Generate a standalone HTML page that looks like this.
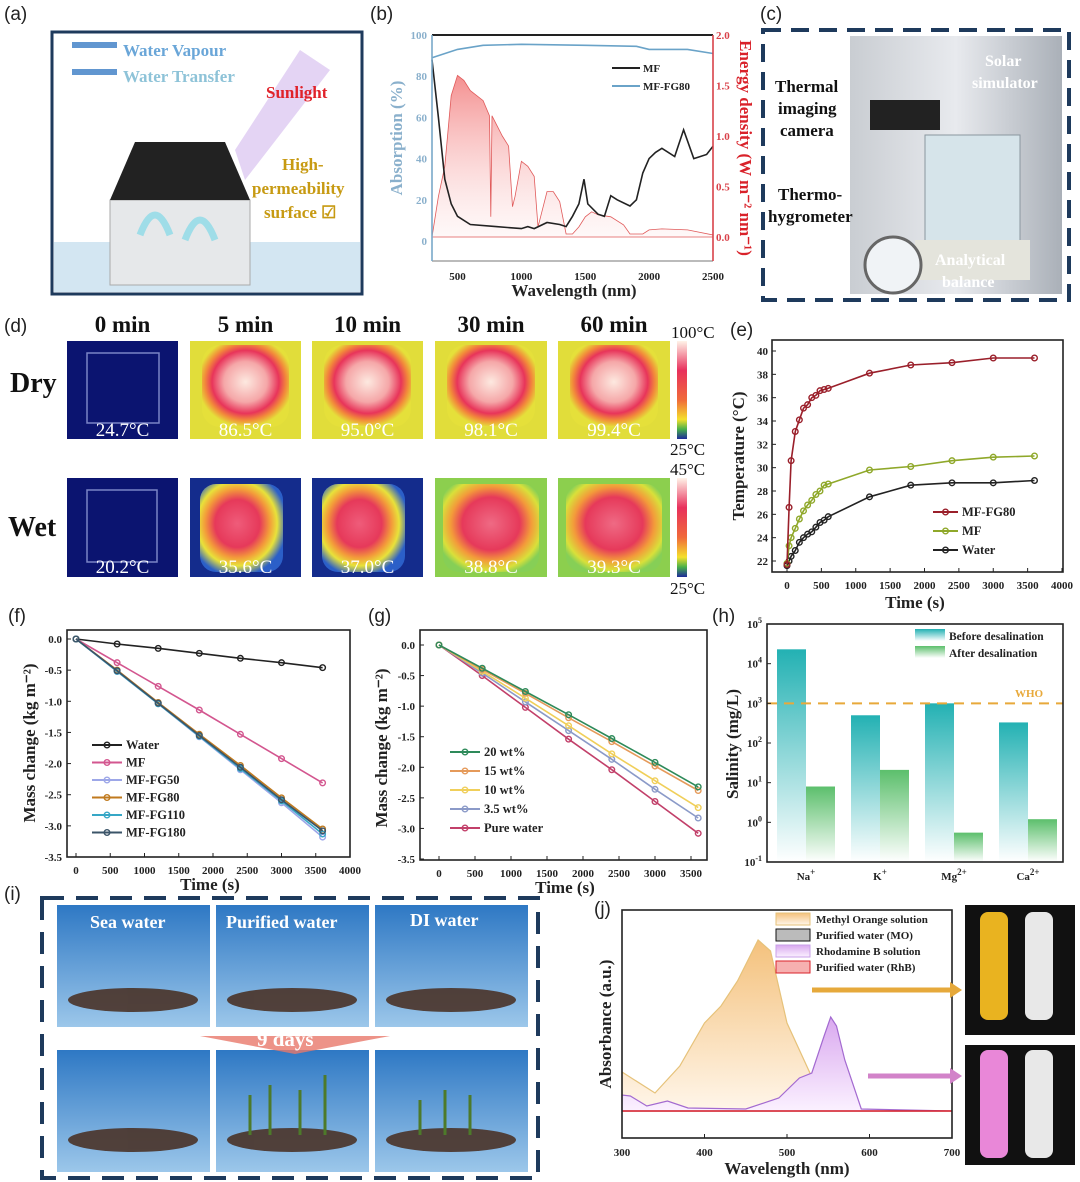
<!DOCTYPE html>
<html><head><meta charset="utf-8">
<style>
body{margin:0;background:#fff;}
svg{display:block;font-family:"Liberation Serif",serif;}
.pl{font-family:"Liberation Sans",sans-serif;font-size:19px;fill:#222;}
.tk{font-size:11px;font-weight:bold;fill:#222;}
.at{font-size:17px;font-weight:bold;fill:#222;}
</style></head>
<body>
<svg id="fig" width="1080" height="1182" viewBox="0 0 1080 1182" xmlns="http://www.w3.org/2000/svg">
<defs>
<linearGradient id="solarG" x1="0" y1="0" x2="0" y2="1"><stop offset="0" stop-color="#f27b7b" stop-opacity="0.85"/><stop offset="1" stop-color="#fde8e8" stop-opacity="0.3"/></linearGradient>
<linearGradient id="beforeG" x1="0" y1="0" x2="0" y2="1"><stop offset="0" stop-color="#23b1b3"/><stop offset="1" stop-color="#ffffff"/></linearGradient>
<linearGradient id="afterG" x1="0" y1="0" x2="0" y2="1"><stop offset="0" stop-color="#5cbf6c"/><stop offset="1" stop-color="#ffffff"/></linearGradient>
<linearGradient id="moG" x1="0" y1="0" x2="0" y2="1"><stop offset="0" stop-color="#f4c17c"/><stop offset="1" stop-color="#fff6ea"/></linearGradient>
<linearGradient id="rhG" x1="0" y1="0" x2="0" y2="1"><stop offset="0" stop-color="#d9a8ef"/><stop offset="1" stop-color="#fbf1ff"/></linearGradient>
<linearGradient id="cbar" x1="0" y1="0" x2="0" y2="1"><stop offset="0" stop-color="#fff3e8"/><stop offset="0.3" stop-color="#e8305c"/><stop offset="0.6" stop-color="#f06a3a"/><stop offset="0.8" stop-color="#f4e02c"/><stop offset="0.9" stop-color="#48b04a"/><stop offset="1" stop-color="#1d2a9a"/></linearGradient>
<radialGradient id="hotDry" cx="0.5" cy="0.45" r="0.55"><stop offset="0" stop-color="#fde9e0"/><stop offset="0.45" stop-color="#f5a7a8"/><stop offset="0.7" stop-color="#e8345a"/><stop offset="0.85" stop-color="#f28a3a"/><stop offset="1" stop-color="#e5e03a"/></radialGradient>
<radialGradient id="hotWet" cx="0.45" cy="0.45" r="0.6"><stop offset="0" stop-color="#ef5c7a"/><stop offset="0.45" stop-color="#e6395a"/><stop offset="0.65" stop-color="#f39b3a"/><stop offset="0.8" stop-color="#e8e23a"/><stop offset="1" stop-color="#2b5fc8"/></radialGradient>
<radialGradient id="hotWet2" cx="0.5" cy="0.45" r="0.6"><stop offset="0" stop-color="#ef6a84"/><stop offset="0.5" stop-color="#e6395a"/><stop offset="0.7" stop-color="#f39b3a"/><stop offset="0.88" stop-color="#d9e03a"/><stop offset="1" stop-color="#86cf56"/></radialGradient>
<linearGradient id="photoBg" x1="0" y1="0" x2="0" y2="1"><stop offset="0" stop-color="#2e78c4"/><stop offset="1" stop-color="#9cc7ea"/></linearGradient>
<linearGradient id="labBg" x1="0" y1="0" x2="1" y2="0"><stop offset="0" stop-color="#c9cdd2"/><stop offset="0.5" stop-color="#e8eaee"/><stop offset="1" stop-color="#aab0b8"/></linearGradient>
</defs>

<!-- panel labels -->
<text class="pl" x="4" y="20">(a)</text>
<text class="pl" x="370" y="20">(b)</text>
<text class="pl" x="760" y="20">(c)</text>
<text class="pl" x="4" y="332">(d)</text>
<text class="pl" x="730" y="336">(e)</text>
<text class="pl" x="8" y="622">(f)</text>
<text class="pl" x="368" y="622">(g)</text>
<text class="pl" x="712" y="622">(h)</text>
<text class="pl" x="4" y="900">(i)</text>
<text class="pl" x="594" y="915">(j)</text>

<!-- panel a schematic -->
<g>
<rect x="52" y="32" width="310" height="262" fill="#fff" stroke="#1e3a5c" stroke-width="3"/>
<rect x="54" y="242" width="306" height="50" fill="#d3e6f2"/>
<path d="M235 150 L300 50 L330 70 L245 180 Z" fill="#d9c2f0" opacity="0.7"/>
<path d="M110 200 L110 285 L250 285 L250 200 Z" fill="#e6e8ea" stroke="#aaa"/>
<path d="M110 200 L135 142 L225 142 L250 200 Z" fill="#222"/>
<path d="M140 235 q15 -40 30 0 M185 240 q15 -40 30 0" stroke="#9fdde8" stroke-width="7" fill="none"/>
<path d="M72 45 h45 M72 72 h45" stroke="#3a7cc5" stroke-width="6" opacity="0.8"/>
<text x="123" y="56" font-size="17" font-weight="bold" fill="#6aa6d8">Water Vapour</text>
<text x="123" y="82" font-size="17" font-weight="bold" fill="#8ec3d8">Water Transfer</text>
<text x="266" y="98" font-size="17" font-weight="bold" fill="#e0222a">Sunlight</text>
<text x="282" y="170" font-size="17" font-weight="bold" fill="#c79a12">High-</text>
<text x="252" y="194" font-size="17" font-weight="bold" fill="#c79a12">permeability</text>
<text x="264" y="218" font-size="17" font-weight="bold" fill="#c79a12">surface ☑</text>
</g>

<!-- panel b -->
<g id="pb"></g>

<!-- panel c photo -->
<g>
<rect x="763" y="30" width="306" height="270" fill="#fff" stroke="#1e3a5c" stroke-width="4" stroke-dasharray="18 10"/>
<rect x="850" y="36" width="212" height="258" fill="url(#labBg)"/>
<rect x="925" y="135" width="95" height="120" fill="#d6e4ea" stroke="#8a969e"/>
<rect x="915" y="240" width="115" height="40" fill="#e4e4dc"/>
<circle cx="893" cy="265" r="28" fill="#f0f3f6" stroke="#666" stroke-width="3"/>
<rect x="870" y="100" width="70" height="30" fill="#222"/>
<text x="775" y="92" font-size="17" font-weight="bold" fill="#111">Thermal</text>
<text x="778" y="114" font-size="17" font-weight="bold" fill="#111">imaging</text>
<text x="780" y="136" font-size="17" font-weight="bold" fill="#111">camera</text>
<text x="985" y="66" font-size="16" font-weight="bold" fill="#fff">Solar</text>
<text x="972" y="88" font-size="16" font-weight="bold" fill="#fff">simulator</text>
<text x="778" y="200" font-size="17" font-weight="bold" fill="#111">Thermo-</text>
<text x="768" y="222" font-size="17" font-weight="bold" fill="#111">hygrometer</text>
<text x="935" y="265" font-size="16" font-weight="bold" fill="#fff">Analytical</text>
<text x="942" y="287" font-size="16" font-weight="bold" fill="#fff">balance</text>
</g>

<!-- panel d thermal -->
<g id="pd"></g>

<g id="pe"></g>
<g id="pf"></g>
<g id="pg"></g>
<g id="ph"></g>

<!-- panel i photos -->
<g>
<rect x="42" y="898" width="496" height="280" fill="#fff" stroke="#1e3a5c" stroke-width="4" stroke-dasharray="22 12"/>
<rect x="57" y="905" width="153" height="122" fill="url(#photoBg)"/>
<rect x="216" y="905" width="153" height="122" fill="url(#photoBg)"/>
<rect x="375" y="905" width="153" height="122" fill="url(#photoBg)"/>
<rect x="57" y="1050" width="153" height="122" fill="url(#photoBg)"/>
<rect x="216" y="1050" width="153" height="122" fill="url(#photoBg)"/>
<rect x="375" y="1050" width="153" height="122" fill="url(#photoBg)"/>
<g fill="#4a3328" opacity="0.9">
<ellipse cx="133" cy="1000" rx="65" ry="12"/><ellipse cx="292" cy="1000" rx="65" ry="12"/><ellipse cx="451" cy="1000" rx="65" ry="12"/>
<ellipse cx="133" cy="1140" rx="65" ry="12"/><ellipse cx="292" cy="1140" rx="65" ry="12"/><ellipse cx="451" cy="1140" rx="65" ry="12"/>
</g>
<g stroke="#4d7a2a" stroke-width="3"><path d="M250 1135 v-40 M270 1135 v-50 M300 1135 v-45 M325 1135 v-60 M420 1135 v-35 M445 1135 v-45 M470 1135 v-40"/></g>
<path d="M200 1036 h190 l-95 18 z" fill="#e8786a" opacity="0.8"/>
<text x="90" y="928" font-size="18" font-weight="bold" fill="#fff">Sea water</text>
<text x="226" y="928" font-size="18" font-weight="bold" fill="#fff">Purified water</text>
<text x="410" y="926" font-size="18" font-weight="bold" fill="#fff">DI water</text>
<text x="257" y="1046" font-size="21" font-weight="bold" fill="#fff">9 days</text>
</g>

<g id="pj"></g>

<!-- vials -->
<g>
<rect x="965" y="905" width="110" height="130" fill="#111"/>
<rect x="965" y="1045" width="110" height="120" fill="#111"/>
<rect x="980" y="912" width="28" height="108" rx="8" fill="#e9b320"/>
<rect x="1025" y="912" width="28" height="108" rx="8" fill="#e8e8e8"/>
<rect x="980" y="1050" width="28" height="108" rx="8" fill="#e987d8"/>
<rect x="1025" y="1050" width="28" height="108" rx="8" fill="#e8e8e8"/>
<path d="M812 990 h140" stroke="#e6a93b" stroke-width="5"/><path d="M950 982 l12 8 l-12 8z" fill="#e6a93b"/>
<path d="M868 1076 h84" stroke="#d283c9" stroke-width="5"/><path d="M950 1068 l12 8 l-12 8z" fill="#d283c9"/>
</g>
</svg>

<script>
// ---------- DATA ----------
const bWave=[300,350,400,450,500,600,800,1000,1050,1100,1200,1300,1350,1400,1450,1490,1520,1600,1650,1700,1750,1850,1900,1950,2000,2050,2100,2200,2270,2350,2450,2500];
const bMF=[88,60,30,18,12,8,7,6,7,6,9,8,7,12,18,30,18,13,12,22,20,17,20,33,40,43,45,41,54,40,42,46];
const bFGWave=[300,500,700,1000,1500,1900,2000,2300,2500];
const bFG=[89,93,95,95.5,95,94.5,93,93,91];
const solarWave=[300,350,400,450,500,550,600,700,750,760,770,850,900,930,950,1000,1050,1100,1130,1150,1200,1250,1300,1350,1400,1450,1500,1550,1600,1700,1800,1850,1950,2000,2100,2300,2500];
const solarVal=[0,0.4,0.7,1.4,1.6,1.55,1.45,1.35,1.2,0.2,1.2,1.0,0.9,0.3,0.4,0.75,0.7,0.6,0.1,0.2,0.45,0.45,0.35,0.03,0.03,0.1,0.2,0.25,0.22,0.2,0.12,0.03,0.03,0.07,0.08,0.07,0.02];

const eTime=[0,30,60,120,180,240,300,360,420,480,540,600,1200,1800,2400,3000,3600];
const eFG80=[21.7,26.6,30.6,33.1,34.1,35.1,35.4,36.0,36.2,36.6,36.7,36.8,38.1,38.8,39.0,39.4,39.4];
const eMF=[21.8,23.3,24.0,24.8,25.6,26.3,26.8,27.2,27.7,28.0,28.5,28.6,29.8,30.1,30.6,30.9,31.0];
const eWater=[21.6,22.0,22.4,22.9,23.6,24.0,24.3,24.5,24.9,25.3,25.5,25.8,27.5,28.5,28.7,28.7,28.9];

const fTime=[0,600,1200,1800,2400,3000,3600];
const fWater=[0,-0.08,-0.15,-0.23,-0.31,-0.38,-0.46];
const fMF=[0,-0.38,-0.76,-1.14,-1.53,-1.92,-2.31];
const fFG50=[0,-0.52,-1.04,-1.57,-2.1,-2.63,-3.18];
const fFG80=[0,-0.5,-1.02,-1.53,-2.03,-2.55,-3.05];
const fFG110=[0,-0.52,-1.04,-1.56,-2.08,-2.6,-3.13];
const fFG180=[0,-0.51,-1.03,-1.55,-2.06,-2.58,-3.08];

const gTime=[0,600,1200,1800,2400,3000,3600];
const g20=[0,-0.38,-0.76,-1.14,-1.53,-1.92,-2.32];
const g15=[0,-0.4,-0.79,-1.19,-1.58,-1.98,-2.38];
const g10=[0,-0.43,-0.87,-1.32,-1.78,-2.22,-2.66];
const g35=[0,-0.46,-0.93,-1.4,-1.87,-2.36,-2.83];
const gPure=[0,-0.5,-1.02,-1.54,-2.04,-2.56,-3.08];

const hIons=["Na","K","Mg","Ca"];
const hIonSup=["+","+","2+","2+"];
const hBefore=[23000,500,1000,330];
const hAfter=[8,21,0.55,1.2];
const hWHO=1000;

const jMOx=[300,340,370,400,420,440,465,480,500,530,560,580,700];
const jMO=[0.39,0.18,0.45,0.88,1.05,1.3,1.71,1.6,0.88,0.34,0.04,0,0];
const jRhx=[300,310,330,355,380,450,490,515,530,545,553,560,570,590,700];
const jRh=[0.16,0.15,0.05,0.1,0.03,0.02,0.13,0.33,0.38,0.75,0.94,0.85,0.51,0.02,0];
const jPW=[0,0];

// ---------- HELPERS ----------
const NS="http://www.w3.org/2000/svg";
function mk(parent,tag,attrs,text){const e=document.createElementNS(NS,tag);for(const k in attrs)e.setAttribute(k,attrs[k]);if(text!==undefined)e.textContent=text;parent.appendChild(e);return e;}
function lin(d0,d1,r0,r1){return v=>r0+(v-d0)*(r1-r0)/(d1-d0);}
function pathOf(xs,ys,X,Y){return xs.map((x,i)=>(i?"L":"M")+X(x).toFixed(1)+" "+Y(ys[i]).toFixed(1)).join(" ");}
function box(g,x0,y0,x1,y1){const r=mk(g,"rect",{x:x0,y:y0,width:x1-x0,height:y1-y0,fill:"none",stroke:"#222","stroke-width":1.6});}
function series(g,xs,ys,X,Y,color,name,marker){
  const p=mk(g,"path",{d:pathOf(xs,ys,X,Y),fill:"none",stroke:color,"stroke-width":1.6});
  
  
  if(marker){xs.forEach((x,i)=>{const c=mk(g,"circle",{cx:X(x),cy:Y(ys[i]),r:2.8,fill:"none",stroke:color,"stroke-width":1.4});
    
    });}
}
function legendLine(g,x,y,color,label,w){
  mk(g,"path",{d:`M${x} ${y} h${w||30}`,stroke:color,"stroke-width":2});
  mk(g,"circle",{cx:x+(w||30)/2,cy:y,r:2.8,fill:"none",stroke:color,"stroke-width":1.4});
  const t=mk(g,"text",{x:x+(w||30)+4,y:y+4,"font-size":12.5,"font-weight":"bold",fill:"#222"},label);
  
  
}

// ---------- PANEL B ----------
(function(){
  const g=document.getElementById("pb");
  const X=lin(300,2500,432,713),YA=lin(0,100,241,35),YE=lin(0,2,237,35);
  let d="M"+X(300)+" "+YE(0)+" "+solarWave.map((w,i)=>"L"+X(w).toFixed(1)+" "+YE(solarVal[i]).toFixed(1)).join(" ")+" L"+X(2500)+" "+YE(0)+" Z";
  const a=mk(g,"path",{d:d,fill:"url(#solarG)",stroke:"#e05a5a","stroke-width":0.8});
  
  
  series(g,bWave,bMF,X,YA,"#222","mf",false);
  series(g,bFGWave,bFG,X,YA,"#6aa3c8","mf-fg80",false);
  mk(g,"path",{d:"M432 35 v226 M713 35 v226 M432 261 h281",stroke:"#777","stroke-width":1});
  mk(g,"path",{d:"M432 35 h281",stroke:"#222","stroke-width":2});
  mk(g,"path",{d:"M432 35 v226",stroke:"#7aa9c9","stroke-width":1.6});
  mk(g,"path",{d:"M713 35 v226",stroke:"#d9424a","stroke-width":1.6});
  [500,1000,1500,2000,2500].forEach(v=>mk(g,"text",{x:X(v),y:280,"text-anchor":"middle",class:"tk","font-size":12},v));
  [0,20,40,60,80,100].forEach(v=>mk(g,"text",{x:427,y:YA(v)+4,"text-anchor":"end",class:"tk",fill:"#8ab0cc",style:"fill:#8ab0cc"},v));
  ["0.0","0.5","1.0","1.5","2.0"].forEach(v=>mk(g,"text",{x:716,y:YE(+v)+4,class:"tk",style:"fill:#d9424a"},v));
  mk(g,"text",{x:574,y:296,"text-anchor":"middle",class:"at","font-size":18},"Wavelength (nm)");
  mk(g,"text",{transform:"translate(402,138) rotate(-90)","text-anchor":"middle",style:"font-size:17px;font-weight:bold;fill:#8ab0cc"},"Absorption (%)");
  mk(g,"text",{transform:"translate(740,148) rotate(90)","text-anchor":"middle",style:"font-size:17px;font-weight:bold;fill:#d9222a"},"Energy density (W m⁻² nm⁻¹)");
  mk(g,"path",{d:"M612 68 h28",stroke:"#222","stroke-width":2});
  mk(g,"text",{x:643,y:72,"font-size":11,"font-weight":"bold",fill:"#222"},"MF");
  mk(g,"path",{d:"M612 86 h28",stroke:"#6aa3c8","stroke-width":2});
  mk(g,"text",{x:643,y:90,"font-size":11,"font-weight":"bold",fill:"#222"},"MF-FG80");
})();

// ---------- PANEL D ----------
(function(){
  const g=document.getElementById("pd");
  const cols=[[67,178],[190,301],[312,423],[435,547],[558,670]];
  const heads=["0 min","5 min","10 min","30 min","60 min"];
  const dry=["24.7°C","86.5°C","95.0°C","98.1°C","99.4°C"];
  const wet=["20.2°C","35.6°C","37.0°C","38.8°C","39.3°C"];
  const wetFill=["#0b1470","url(#hotWet)","url(#hotWet)","url(#hotWet2)","url(#hotWet2)"];
  cols.forEach((c,i)=>{
    const cx=(c[0]+c[1])/2;
    mk(g,"text",{x:cx,y:332,"text-anchor":"middle","font-size":23,"font-weight":"bold",fill:"#111"},heads[i]);
    mk(g,"rect",{x:c[0],y:341,width:c[1]-c[0],height:98,fill:i?"#e1dd3a":"#0b1470"});
    if(i)mk(g,"rect",{x:c[0]+12,y:345,width:c[1]-c[0]-24,height:82,rx:18,fill:"url(#hotDry)"});
    else mk(g,"rect",{x:c[0]+20,y:353,width:72,height:70,fill:"none",stroke:"#7b84c6","stroke-width":1.5});
    mk(g,"text",{x:cx,y:436,"text-anchor":"middle","font-size":19,fill:"#fff"},dry[i]);
    mk(g,"rect",{x:c[0],y:478,width:c[1]-c[0],height:99,fill:i?(i<3?"#142c8c":"#8ccf4e"):"#0b1470"});
    if(i)mk(g,"rect",{x:c[0]+(i<3?10:8),y:484,width:c[1]-c[0]-(i<3?28:16),height:88,rx:16,fill:wetFill[i]});
    else mk(g,"rect",{x:c[0]+20,y:490,width:70,height:72,fill:"none",stroke:"#7b84c6","stroke-width":1.5});
    mk(g,"text",{x:cx,y:573,"text-anchor":"middle","font-size":19,fill:"#fff"},wet[i]);
  });
  mk(g,"text",{x:10,y:392,"font-size":28,"font-weight":"bold",fill:"#111"},"Dry");
  mk(g,"text",{x:8,y:536,"font-size":28,"font-weight":"bold",fill:"#111"},"Wet");
  mk(g,"rect",{x:677,y:341,width:10,height:98,fill:"url(#cbar)"});
  mk(g,"rect",{x:677,y:478,width:10,height:99,fill:"url(#cbar)"});
  mk(g,"text",{x:671,y:338,"font-size":17,fill:"#111"},"100°C");
  mk(g,"text",{x:670,y:455,"font-size":17,fill:"#111"},"25°C");
  mk(g,"text",{x:670,y:475,"font-size":17,fill:"#111"},"45°C");
  mk(g,"text",{x:670,y:594,"font-size":17,fill:"#111"},"25°C");
})();

// ---------- PANEL E ----------
(function(){
  const g=document.getElementById("pe");
  const X=lin(0,4000,787,1062),Y=lin(22,40,561,351);
  box(g,772,340,1063,572);
  series(g,eTime,eWater,X,Y,"#222","water",true);
  series(g,eTime,eMF,X,Y,"#8fa82a","mf",true);
  series(g,eTime,eFG80,X,Y,"#9a1f2a","mf-fg80",true);
  [0,500,1000,1500,2000,2500,3000,3500,4000].forEach(v=>{mk(g,"path",{d:`M${X(v)} 572 v-4`,stroke:"#222"});mk(g,"text",{x:X(v),y:589,"text-anchor":"middle",class:"tk","font-size":11.5},v);});
  [22,24,26,28,30,32,34,36,38,40].forEach(v=>{mk(g,"path",{d:`M772 ${Y(v)} h4`,stroke:"#222"});mk(g,"text",{x:768,y:Y(v)+4,"text-anchor":"end",class:"tk","font-size":11.5},v);});
  mk(g,"text",{x:915,y:608,"text-anchor":"middle",class:"at","font-size":18},"Time (s)");
  mk(g,"text",{transform:"translate(744,456) rotate(-90)","text-anchor":"middle",class:"at","font-size":18},"Temperature (°C)");
  legendLine(g,933,512,"#9a1f2a","MF-FG80",25);
  legendLine(g,933,531,"#8fa82a","MF",25);
  legendLine(g,933,550,"#222","Water",25);
})();

// ---------- PANEL F ----------
(function(){
  const g=document.getElementById("pf");
  const X=lin(0,4000,76,350),Y=lin(0,-3.5,639,857);
  box(g,67,630,350,857);
  const cols=[["#222",fWater,"Water"],["#d3568f",fMF,"MF"],["#9da7e8",fFG50,"MF-FG50"],["#c07a1e",fFG80,"MF-FG80"],["#36a7c6",fFG110,"MF-FG110"],["#3b5468",fFG180,"MF-FG180"]];
  cols.forEach(c=>series(g,fTime,c[1],X,Y,c[0],c[2].toLowerCase(),true));
  [0,500,1000,1500,2000,2500,3000,3500,4000].forEach(v=>{mk(g,"path",{d:`M${X(v)} 857 v-4`,stroke:"#222"});mk(g,"text",{x:X(v),y:874,"text-anchor":"middle",class:"tk"},v);});
  ["0.0","-0.5","-1.0","-1.5","-2.0","-2.5","-3.0","-3.5"].forEach(v=>{mk(g,"path",{d:`M67 ${Y(+v)} h4`,stroke:"#222"});mk(g,"text",{x:62,y:Y(+v)+4,"text-anchor":"end",class:"tk"},v);});
  mk(g,"text",{x:210,y:890,"text-anchor":"middle",class:"at","font-size":18},"Time (s)");
  mk(g,"text",{transform:"translate(35,743) rotate(-90)","text-anchor":"middle",class:"at","font-size":17},"Mass change (kg m⁻²)");
  cols.forEach((c,i)=>legendLine(g,92,745+i*17.5,c[0],c[2],30));
})();

// ---------- PANEL G ----------
(function(){
  const g=document.getElementById("pg");
  const X=lin(0,3500,439,691),Y=lin(0,-3.5,645,859);
  box(g,420,630,707,860);
  const cols=[["#2e8a5a",g20,"20 wt%"],["#e59a5a",g15,"15 wt%"],["#f0cf5a",g10,"10 wt%"],["#8b9ac8",g35,"3.5 wt%"],["#c2406a",gPure,"Pure water"]];
  cols.slice().reverse().forEach(c=>series(g,gTime,c[1],X,Y,c[0],c[2].replace(/[ %.]/g,''),true));
  [0,500,1000,1500,2000,2500,3000,3500].forEach(v=>{mk(g,"path",{d:`M${X(v)} 860 v-4`,stroke:"#222"});mk(g,"text",{x:X(v),y:877,"text-anchor":"middle",class:"tk"},v);});
  ["0.0","-0.5","-1.0","-1.5","-2.0","-2.5","-3.0","-3.5"].forEach(v=>{mk(g,"path",{d:`M420 ${Y(+v)} h4`,stroke:"#222"});mk(g,"text",{x:415,y:Y(+v)+4,"text-anchor":"end",class:"tk"},v);});
  mk(g,"text",{x:565,y:893,"text-anchor":"middle",class:"at","font-size":18},"Time (s)");
  mk(g,"text",{transform:"translate(387,748) rotate(-90)","text-anchor":"middle",class:"at","font-size":17},"Mass change (kg m⁻²)");
  cols.forEach((c,i)=>legendLine(g,450,752+i*19,c[0],c[2],30));
})();

// ---------- PANEL H ----------
(function(){
  const g=document.getElementById("ph");
  const Y=v=>862-(Math.log10(v)+1)*(238/6);
  const X0=767,cw=74,bw=29;
  hIons.forEach((ion,i)=>{
    const c=X0+39+i*cw;
    const r1=mk(g,"rect",{x:c-bw,y:Y(hBefore[i]),width:bw,height:862-Y(hBefore[i]),fill:"url(#beforeG)"});
    
    
    const r2=mk(g,"rect",{x:c,y:Y(hAfter[i]),width:bw,height:862-Y(hAfter[i]),fill:"url(#afterG)"});
    
    
    const t=mk(g,"text",{x:c,y:880,"text-anchor":"middle",class:"tk","font-size":13},ion);
    mk(t,"tspan",{dy:-5,"font-size":9},hIonSup[i]);
  });
  mk(g,"path",{d:`M767 ${Y(hWHO)} H1063`,stroke:"#e8a93a","stroke-width":2,"stroke-dasharray":"10 7"});
  mk(g,"text",{x:1015,y:697,"font-size":11,"font-weight":"bold",fill:"#e8a93a"},"WHO");
  box(g,767,624,1063,862);
  [-1,0,1,2,3,4,5].forEach(p=>{const y=Y(Math.pow(10,p));mk(g,"path",{d:`M767 ${y} h4`,stroke:"#222"});const t=mk(g,"text",{x:762,y:y+4,"text-anchor":"end",class:"tk","font-size":12},"10");mk(t,"tspan",{dy:-5,"font-size":8},p);});
  mk(g,"text",{transform:"translate(738,744) rotate(-90)","text-anchor":"middle",class:"at","font-size":17},"Salinity (mg/L)");
  mk(g,"rect",{x:915,y:629,width:30,height:12,fill:"url(#beforeG)"});
  mk(g,"text",{x:949,y:640,"font-size":11.5,"font-weight":"bold",fill:"#222"},"Before desalination");
  mk(g,"rect",{x:915,y:646,width:30,height:12,fill:"url(#afterG)"});
  mk(g,"text",{x:949,y:657,"font-size":11.5,"font-weight":"bold",fill:"#222"},"After desalination");
})();

// ---------- PANEL J ----------
(function(){
  const g=document.getElementById("pj");
  const X=lin(300,700,622,952),Y=lin(0,1,1111,1011);
  const area=(xs,ys)=>"M"+X(xs[0])+" "+Y(0)+" "+xs.map((x,i)=>"L"+X(x).toFixed(1)+" "+Y(ys[i]).toFixed(1)).join(" ")+" L"+X(xs[xs.length-1])+" "+Y(0)+" Z";
  const a1=mk(g,"path",{d:area(jMOx,jMO),fill:"url(#moG)",stroke:"#e6c27a","stroke-width":1.2});
  
  
  const a2=mk(g,"path",{d:area(jRhx,jRh),fill:"url(#rhG)",stroke:"#a36ad0","stroke-width":1.2});
  
  
  series(g,[300,700],jPW,X,Y,"#d9222a","purified-water",false);
  box(g,622,910,952,1138);
  [300,400,500,600,700].forEach(v=>{mk(g,"path",{d:`M${X(v)} 1138 v-4`,stroke:"#222"});mk(g,"text",{x:X(v),y:1156,"text-anchor":"middle",class:"tk","font-size":11.5},v);});
  mk(g,"text",{x:787,y:1174,"text-anchor":"middle",class:"at","font-size":18},"Wavelength (nm)");
  mk(g,"text",{transform:"translate(611,1024) rotate(-90)","text-anchor":"middle",class:"at","font-size":17},"Absorbance (a.u.)");
  const L=[["url(#moG)","#e6c27a","Methyl Orange solution"],["#bbb","#111","Purified water (MO)"],["url(#rhG)","#c9a0e8","Rhodamine B solution"],["#f6b0b0","#d9222a","Purified water (RhB)"]];
  L.forEach((l,i)=>{mk(g,"rect",{x:776,y:913+i*16,width:34,height:12,fill:l[0],stroke:l[1]});mk(g,"text",{x:816,y:923+i*16,"font-size":11,"font-weight":"bold",fill:"#222"},l[2]);});
})();
</script>
</body></html>
